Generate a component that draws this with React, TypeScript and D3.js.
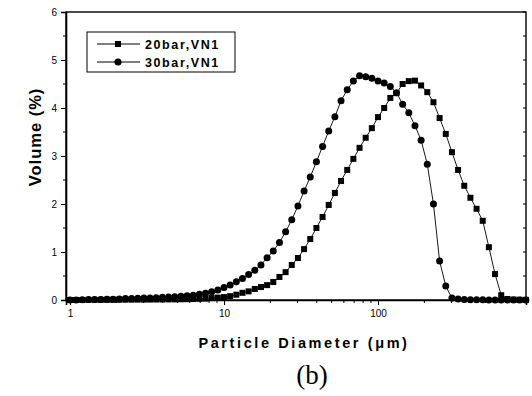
import React, { useEffect, useRef } from "react";
import * as d3 from "d3";

// Particle diameters (µm), instrument bins (25 per decade)
const diameters = [
  1.0, 1.096, 1.202, 1.318, 1.445, 1.585, 1.738, 1.905, 2.089, 2.291, 2.512, 2.754, 3.02, 3.311, 3.631, 3.981, 4.365, 4.786, 5.248, 5.754, 6.31, 6.918, 7.586, 8.318, 9.12,
  10.0, 10.96, 12.02, 13.18, 14.45, 15.85, 17.38, 19.05, 20.89, 22.91, 25.12, 27.54, 30.2, 33.11, 36.31, 39.81, 43.65, 47.86, 52.48, 57.54, 63.1, 69.18, 75.86, 83.18, 91.2,
  100.0, 109.6, 120.2, 131.8, 144.5, 158.5, 173.8, 190.5, 208.9, 229.1, 251.2, 275.4, 302.0, 331.1, 363.1, 398.1, 436.5, 478.6, 524.8, 575.4, 631.0, 691.8, 758.6, 831.8, 912.0,
];

// Volume (%) – 20 bar, VN1 (squares)
const vol20 = [
  0, 0, 0, 0.002, 0.003, 0.004, 0.005, 0.005, 0.006, 0.006, 0.007, 0.008, 0.008, 0.009, 0.01, 0.011, 0.012, 0.013, 0.015, 0.017, 0.02, 0.025, 0.03, 0.04, 0.05,
  0.06, 0.08, 0.11, 0.15, 0.18, 0.23, 0.27, 0.31, 0.375, 0.48, 0.58, 0.73, 0.875, 1.06, 1.27, 1.5, 1.73, 1.98, 2.23, 2.48, 2.71, 2.94, 3.17, 3.38, 3.58,
  3.81, 4.0, 4.21, 4.31, 4.5, 4.56, 4.57, 4.47, 4.33, 4.12, 3.79, 3.46, 3.08, 2.71, 2.38, 2.13, 1.9, 1.65, 1.1, 0.54, 0.1, 0.02, 0.01, 0.005, 0.003,
];

// Volume (%) – 30 bar, VN1 (circles)
const vol30 = [
  0, 0.002, 0.004, 0.008, 0.01, 0.012, 0.015, 0.018, 0.022, 0.03, 0.032, 0.035, 0.04, 0.043, 0.047, 0.055, 0.06, 0.07, 0.08, 0.09, 0.1, 0.12, 0.14, 0.17, 0.21,
  0.26, 0.31, 0.38, 0.45, 0.53, 0.62, 0.73, 0.88, 1.02, 1.2, 1.42, 1.67, 1.96, 2.27, 2.56, 2.88, 3.2, 3.52, 3.82, 4.15, 4.38, 4.56, 4.67, 4.65, 4.62,
  4.56, 4.52, 4.45, 4.32, 4.08, 3.9, 3.63, 3.33, 2.83, 2.0, 0.81, 0.29, 0.04, 0.02, 0.01, 0.006, 0.004, 0.003, 0.002, 0.002, 0.001, 0.001, 0.001, 0, 0,
];

const seriesNames = ["20bar,VN1", "30bar,VN1"];
const yTicks = [0, 1, 2, 3, 4, 5, 6];
const xTickLabels = [1, 10, 100];

const W = 532;
const H = 396;
const M = { left: 66, right: 526, top: 12, bottom: 300 };
const SANS = "'Liberation Sans', Arial, sans-serif";

export default function App() {
  const ref = useRef<SVGSVGElement>(null);

  useEffect(() => {
    const svg = d3.select(ref.current);
    svg.selectAll("*").remove();

    const x = d3.scaleLog().domain([0.942, 914]).range([M.left, M.right]);
    const y = d3.scaleLinear().domain([0, 6]).range([M.bottom, M.top]);

    // frame
    svg.append("rect")
      .attr("x", M.left).attr("y", M.top)
      .attr("width", M.right - M.left).attr("height", M.bottom - M.top)
      .attr("fill", "none").attr("stroke", "#000").attr("stroke-width", 1.4);

    // y axis
    const yAxis = d3.axisLeft(y).tickValues(yTicks).tickSize(5).tickPadding(4).tickFormat(d3.format("d"));
    const gy = svg.append("g").attr("transform", `translate(${M.left},0)`).call(yAxis);
    gy.select(".domain").attr("stroke-width", 1.6);
    gy.selectAll("text").attr("font-family", SANS).attr("font-size", 10).attr("fill", "#000");
    const yMinor = d3.range(0.5, 6, 1);
    svg.append("g").selectAll("line").data(yMinor).join("line")
      .attr("x1", M.left - 3).attr("x2", M.left)
      .attr("y1", (d) => y(d)).attr("y2", (d) => y(d))
      .attr("stroke", "#000");
    // right side ticks
    svg.append("g").selectAll("line").data([...yTicks, ...yMinor]).join("line")
      .attr("x1", M.right - 3).attr("x2", M.right)
      .attr("y1", (d) => y(d)).attr("y2", (d) => y(d))
      .attr("stroke", "#000");

    // x axis
    const xAxis = d3.axisBottom(x).tickValues(xTickLabels).tickSize(5).tickPadding(5).tickFormat(d3.format("d"));
    const gx = svg.append("g").attr("transform", `translate(0,${M.bottom})`).call(xAxis);
    gx.select(".domain").attr("stroke-width", 1.6);
    gx.selectAll("text").attr("font-family", SANS).attr("font-size", 10).attr("fill", "#000");
    const xMinor = x.ticks().filter((t) => !xTickLabels.includes(t) && t >= 0.942 && t <= 914);
    svg.append("g").selectAll("line").data(xMinor).join("line")
      .attr("x1", (d) => x(d)).attr("x2", (d) => x(d))
      .attr("y1", M.bottom).attr("y2", M.bottom + 3)
      .attr("stroke", "#000");

    const g = svg.append("g");
    const line = d3.line<number>().x((_, i) => x(diameters[i])).y((d) => y(d));

    [vol20, vol30].forEach((vals) => {
      g.append("path").attr("d", line(vals)).attr("fill", "none").attr("stroke", "#000").attr("stroke-width", 0.9);
    });

    g.append("g").selectAll("rect").data(vol20).join("rect")
      .attr("x", (_, i) => x(diameters[i]) - 3).attr("y", (d) => y(d) - 3)
      .attr("width", 6).attr("height", 6).attr("fill", "#000");
    g.append("g").selectAll("circle").data(vol30).join("circle")
      .attr("cx", (_, i) => x(diameters[i])).attr("cy", (d) => y(d))
      .attr("r", 3.5).attr("fill", "#000");

    // legend
    const lg = svg.append("g");
    lg.append("rect").attr("x", 87).attr("y", 32).attr("width", 148).attr("height", 40)
      .attr("fill", "#fff").attr("stroke", "#000").attr("stroke-width", 1);
    seriesNames.forEach((name, i) => {
      const ly = 44 + i * 18;
      lg.append("line").attr("x1", 97).attr("x2", 140).attr("y1", ly).attr("y2", ly).attr("stroke", "#000");
      if (i === 0) {
        lg.append("rect").attr("x", 115).attr("y", ly - 3).attr("width", 6).attr("height", 6).attr("fill", "#000");
      } else {
        lg.append("circle").attr("cx", 118).attr("cy", ly).attr("r", 3.6).attr("fill", "#000");
      }
      lg.append("text").attr("x", 145).attr("y", ly + 4.5).text(name)
        .attr("font-family", SANS).attr("font-weight", "bold").attr("font-size", 12.5)
        .attr("letter-spacing", 1.6).attr("fill", "#000");
    });

    // axis titles
    svg.append("text").attr("x", 304).attr("y", 348).attr("text-anchor", "middle")
      .attr("font-family", SANS).attr("font-weight", "bold").attr("font-size", 14.5)
      .attr("letter-spacing", 2.6).attr("fill", "#000")
      .text("Particle Diameter (\u03bcm)");
    svg.append("text").attr("transform", `translate(41,137) rotate(-90)`).attr("text-anchor", "middle")
      .attr("font-family", SANS).attr("font-weight", "bold").attr("font-size", 16.5)
      .attr("letter-spacing", 1).attr("fill", "#000").text("Volume (%)");

    svg.append("text").attr("x", 312).attr("y", 384).attr("text-anchor", "middle")
      .attr("font-family", "'Liberation Serif', 'Times New Roman', serif").attr("font-size", 27)
      .attr("fill", "#000").text("(b)");
  }, []);

  return (
    <svg ref={ref} width={W} height={H} style={{ position: "absolute", left: 0, top: 0, background: "#fff" }} />
  );
}
